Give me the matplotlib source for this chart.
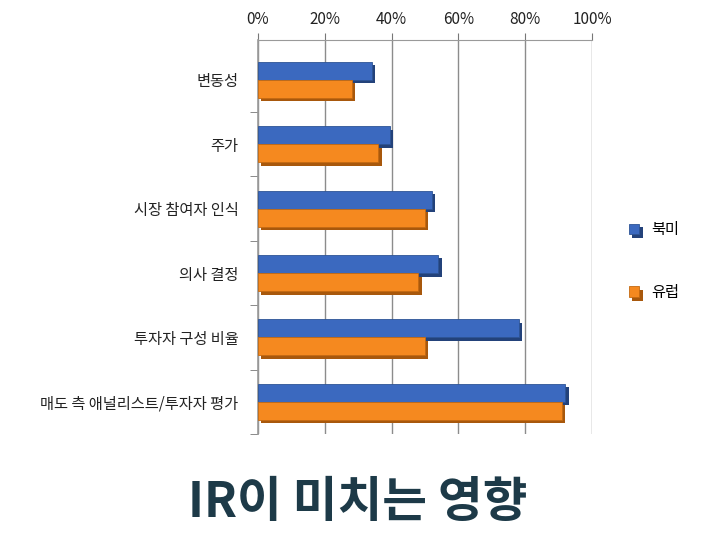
import matplotlib
matplotlib.use("Agg")
import matplotlib.pyplot as plt
import matplotlib.patheffects as pe
import numpy as np

plt.rcParams['font.family'] = ['Noto Sans CJK KR', 'DejaVu Sans']

# chart data
categories = ["변동성", "주가", "시장 참여자 인식", "의사 결정", "투자자 구성 비율", "매도 측 애널리스트/투자자 평가"]
north_america = [34, 39.5, 52, 54, 78, 92]
europe = [28, 36, 50, 48, 50, 91]
series_names = ["북미", "유럽"]
tick_values = [0, 20, 40, 60, 80, 100]
title = "IR이 미치는 영향"

blue = "#3b69bf"
orange = "#f5891f"

fig = plt.figure(figsize=(7.05, 5.33), dpi=100)
ax = fig.add_axes([258 / 705, 1 - 434 / 533, (592 - 258) / 705, (434 - 40) / 533])

y = np.arange(len(categories))
h = 0.28
shadow = lambda c: [pe.SimplePatchShadow(offset=(2.5, -2.5), shadow_rgbFace=c, alpha=1), pe.Normal()]
b1 = ax.barh(y - h / 2, north_america, height=h, color=blue, edgecolor="#2d5496", linewidth=0.6,
             path_effects=shadow("#23427a"), zorder=3)
b2 = ax.barh(y + h / 2, europe, height=h, color=orange, edgecolor="#c46a12", linewidth=0.6,
             path_effects=shadow("#a8580c"), zorder=3)

ax.set_xlim(0, 100)
ax.set_ylim(5.5, -0.62)
ax.xaxis.tick_top()
ax.set_xticks(tick_values)
ax.set_xticklabels([f"{v}%" for v in tick_values], fontsize=11, color="#222222")
ax.tick_params(axis="x", length=5, color="#777777", pad=4)
ax.grid(axis="x", color="#8c8c8c", linewidth=1.0, zorder=0)

ax.set_yticks(y)
ax.set_yticklabels(categories, fontsize=11, color="#222222")
ax.set_yticks(np.arange(len(categories)) + 0.5, minor=True)
ax.tick_params(axis="y", which="major", length=0, pad=14)
ax.tick_params(axis="y", which="minor", length=6, color="#777777")

for side in ["right", "bottom"]:
    ax.spines[side].set_visible(False)
ax.spines["left"].set_color("#9a9a9a")
ax.spines["left"].set_linewidth(1.2)
ax.spines["top"].set_color("#9a9a9a")

fig.legend([b1, b2], series_names, loc="center left", bbox_to_anchor=(0.872, 0.51),
           frameon=False, fontsize=11, handlelength=0.7, handleheight=0.7,
           labelspacing=3.0, handletextpad=0.8)

fig.text(0.508, 0.057, title, ha="center", va="center", fontsize=35, fontweight="bold",
         color="#1d3a48")

fig.savefig("out.png", dpi=100)
